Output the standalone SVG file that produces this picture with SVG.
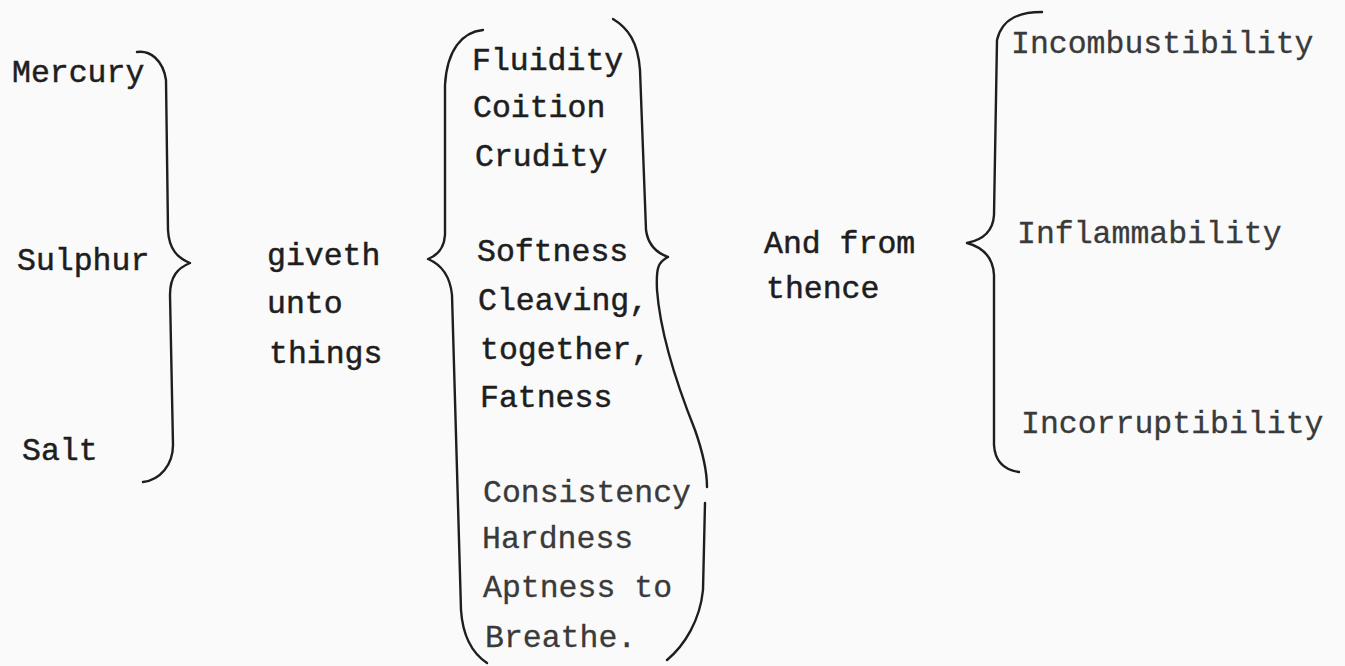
<svg xmlns="http://www.w3.org/2000/svg" width="1345" height="666" viewBox="0 0 1345 666">
<style>
  .t { font-family: "Liberation Mono", "DejaVu Sans Mono", monospace; font-size: 31.5px; fill: #1e1e1e; stroke: #1e1e1e; stroke-width: 0.5px; }
  .lt { fill: #3a3a3a; stroke: #3a3a3a; stroke-width: 0.3px; }
  .br { fill: none; stroke: #1e1e1e; stroke-width: 2.4; stroke-linecap: round; stroke-linejoin: round; }
</style>
<rect width="1345" height="666" fill="#fafafa"/>
<g id="principles">
  <text class="t" x="12" y="82">Mercury</text>
  <text class="t" x="17" y="270">Sulphur</text>
  <text class="t" x="22" y="460">Salt</text>
</g>
<g id="giveth">
  <text class="t" x="267" y="265">giveth</text>
  <text class="t" x="267" y="313">unto</text>
  <text class="t" x="269" y="363">things</text>
</g>
<g id="qualities">
  <text class="t" x="472" y="70">Fluidity</text>
  <text class="t" x="473" y="117">Coition</text>
  <text class="t" x="475" y="166">Crudity</text>
  <text class="t" x="477" y="261">Softness</text>
  <text class="t" x="478" y="310">Cleaving,</text>
  <text class="t" x="480" y="359">together,</text>
  <text class="t" x="480" y="407">Fatness</text>
  <text class="t lt" x="483" y="502">Consistency</text>
  <text class="t lt" x="482" y="548">Hardness</text>
  <text class="t lt" x="483" y="597">Aptness to</text>
  <text class="t lt" x="485" y="647">Breathe.</text>
</g>
<g id="thence">
  <text class="t" x="764" y="253">And from</text>
  <text class="t" x="766" y="298">thence</text>
</g>
<g id="results">
  <text class="t lt" x="1011" y="53">Incombustibility</text>
  <text class="t lt" x="1017" y="243">Inflammability</text>
  <text class="t lt" x="1021" y="433">Incorruptibility</text>
</g>
<g id="connectors">
  <path class="br" d="M137,52 C150,50 163,60 166,80 L168,230 C169,250 178,258 190,263 C178,268 170,276 170,295 L173,445 C173,465 160,480 143,482"/>
  <path class="br" d="M483,30 C462,32 447,50 445,85 L445,235 C444,250 436,256 428,259 C440,264 450,275 452,295 L461,610 C463,640 475,655 487,663"/>
  <path class="br" d="M613,19 C628,28 638,42 640,70 L646,230 C648,245 657,253 668,257 C658,262 656,268 657,290 C660,330 675,380 695,430 C702,450 707,470 707,487"/>
  <path class="br" d="M705,503 L703,590 C700,620 685,645 667,660"/>
  <path class="br" d="M1042,12 C1020,12 1002,18 997,40 L994,215 C993,232 982,240 967,243 C982,247 993,256 994,275 L994,445 C995,462 1005,470 1019,472"/>
</g>
</svg>
